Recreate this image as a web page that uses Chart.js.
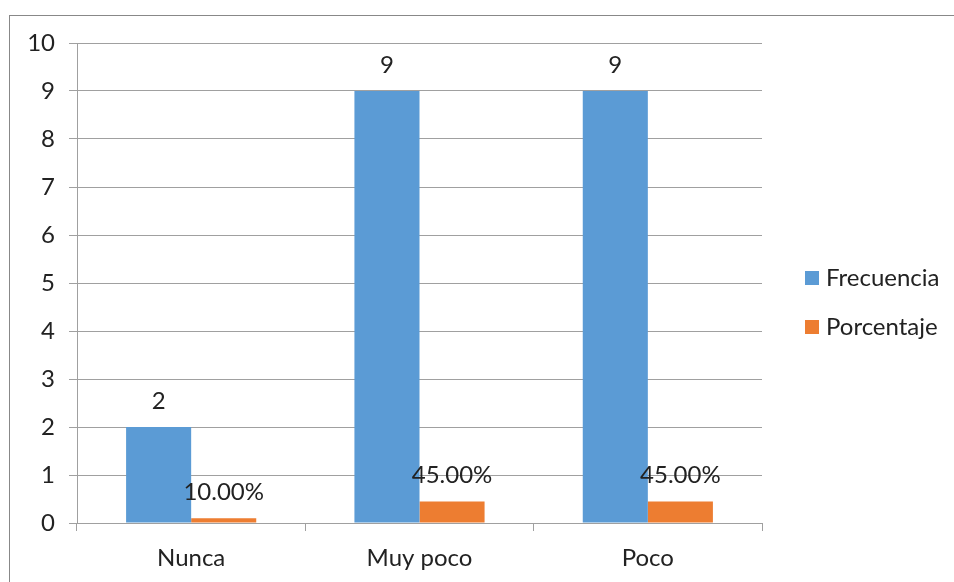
<!DOCTYPE html>
<html>
<head>
<meta charset="utf-8">
<script src="https://cdn.jsdelivr.net/npm/chart.js@4/dist/chart.umd.min.js"></script>
<style>
  html, body { margin: 0; padding: 0; background: #fff; }
  #wrap { position: relative; width: 954px; height: 582px; overflow: hidden; }
  #frame { position: absolute; left: 9px; top: 15px; width: 1000px; height: 700px; border-left: 1px solid #888; border-top: 1px solid #888; box-sizing: border-box; }
  canvas { position: absolute; left: 0; top: 0; }
</style>
</head>
<body>
<div id="wrap">
  <div id="frame"></div>
  <canvas id="c" width="954" height="582"></canvas>
</div>
<script>
const categories = ["Nunca", "Muy poco", "Poco"];
const seriesNames = ["Frecuencia", "Porcentaje"];
const frecuencia = [2, 9, 9];
const porcentaje = [0.10, 0.45, 0.45];
const frecuenciaLabels = ["2", "9", "9"];
const porcentajeLabels = ["10.00%", "45.00%", "45.00%"];
const yTicks = [0, 1, 2, 3, 4, 5, 6, 7, 8, 9, 10];

const FONT = "Lato, 'Open Sans', sans-serif";
const TEXT = "#222";
const GRID = "#a0a0a0";

const dataLabelPlugin = {
  id: "dataLabels",
  afterDatasetsDraw(chart) {
    const ctx = chart.ctx;
    ctx.save();
    ctx.font = "24px " + FONT;
    ctx.fillStyle = TEXT;
    ctx.textAlign = "center";
    ctx.textBaseline = "middle";
    chart.data.datasets.forEach((ds, i) => {
      const meta = chart.getDatasetMeta(i);
      meta.data.forEach((bar, j) => {
        ctx.fillText(ds.valueLabels[j], bar.x, bar.y - 26);
      });
    });
    ctx.restore();
  }
};

const legendPlugin = {
  id: "sideLegend",
  afterDraw(chart) {
    const ctx = chart.ctx;
    ctx.save();
    ctx.font = "24px " + FONT;
    ctx.textAlign = "left";
    ctx.textBaseline = "middle";
    const x0 = 805, y0 = 278, gap = 49;
    chart.data.datasets.forEach((ds, i) => {
      const y = y0 + i * gap;
      ctx.fillStyle = ds.backgroundColor;
      ctx.fillRect(x0, y - 7, 14, 14);
      ctx.fillStyle = TEXT;
      ctx.fillText(ds.label, x0 + 21, y);
    });
    ctx.restore();
  }
};

new Chart(document.getElementById("c"), {
  type: "bar",
  data: {
    labels: categories,
    datasets: [
      { label: seriesNames[0], data: frecuencia, valueLabels: frecuenciaLabels, backgroundColor: "#5B9BD5" },
      { label: seriesNames[1], data: porcentaje, valueLabels: porcentajeLabels, backgroundColor: "#ED7D31" }
    ]
  },
  options: {
    responsive: false,
    animation: false,
    devicePixelRatio: 1,
    layout: { padding: { left: 0, top: 43, right: 192, bottom: 0 } },
    datasets: { bar: { categoryPercentage: 0.57, barPercentage: 1.0 } },
    plugins: { legend: { display: false }, tooltip: { enabled: false } },
    scales: {
      x: {
        grid: { display: true, drawOnChartArea: false, drawTicks: true, tickLength: 8, color: GRID, offset: true },
        border: { display: true, color: GRID },
        ticks: { color: TEXT, font: { family: FONT, size: 24 }, padding: 13 },
        afterFit(scale) { scale.height = 59; }
      },
      y: {
        min: 0, max: 10,
        afterBuildTicks(scale) { scale.ticks = yTicks.map(v => ({ value: v })); },
        grid: { color: GRID, tickLength: 8, drawTicks: true },
        border: { display: true, color: GRID },
        ticks: { color: TEXT, font: { family: FONT, size: 24 }, padding: 14 },
        afterFit(scale) { scale.width = 77; }
      }
    }
  },
  plugins: [dataLabelPlugin, legendPlugin]
});
</script>
</body>
</html>
